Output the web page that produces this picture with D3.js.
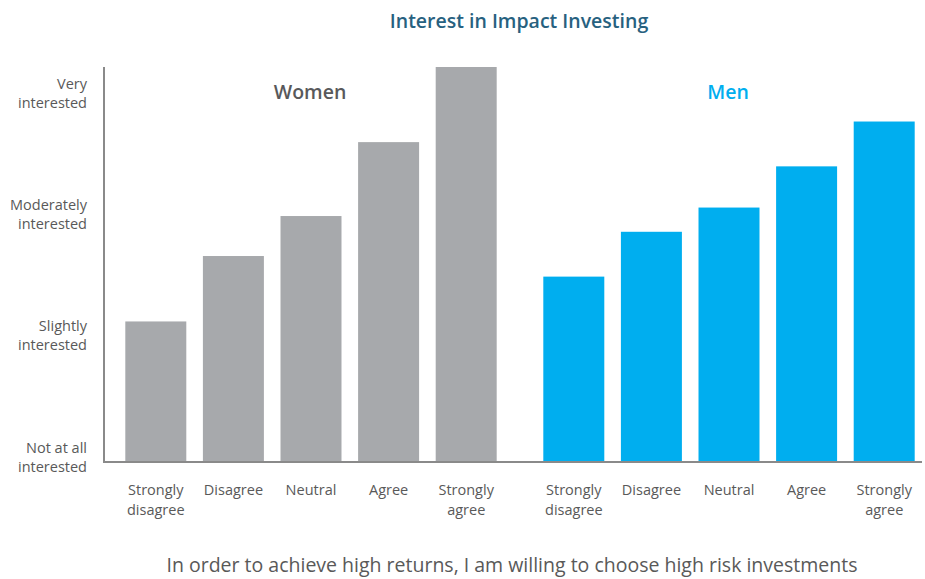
<!DOCTYPE html>
<html>
<head>
<meta charset="utf-8">
<script src="https://cdn.jsdelivr.net/npm/d3@7"></script>
<style>
  body { margin: 0; background: #fff; }
  text { font-family: "Open Sans", "Noto Sans", sans-serif; }
</style>
</head>
<body>
<script>
// categories and values
const groups = ["Women", "Men"];
const answers = ["Strongly disagree", "Disagree", "Neutral", "Agree", "Strongly agree"];
const womenValues = [2.12, 2.66, 2.99, 3.60, 4.22];
const menValues = [2.49, 2.86, 3.06, 3.40, 3.77];
const levelTicks = [1, 2, 3, 4];
const levelLabels = ["Not at all interested", "Slightly interested", "Moderately interested", "Very interested"];

const groupColors = { Women: "#a7a9ac", Men: "#00aeef" };
const groupTextColors = { Women: "#58595b", Men: "#00aeef" };

const width = 925, height = 579;
const svg = d3.select("body").append("svg")
  .attr("width", width)
  .attr("height", height);

// scales
const x0 = d3.scaleBand()
  .domain(groups)
  .range([117, 923])
  .paddingInner(0.0718);

const x1 = d3.scaleBand()
  .domain(answers)
  .range([0, x0.bandwidth()])
  .paddingInner(0.214)
  .paddingOuter(0.107);

const y = d3.scaleLinear()
  .domain([0.96, 4.22])
  .range([462, 67]);

const data = groups.map(g => ({
  group: g,
  values: answers.map((a, i) => ({ answer: a, value: g === "Women" ? womenValues[i] : menValues[i] }))
}));

// title
svg.append("text")
  .attr("x", 519)
  .attr("y", 28)
  .attr("text-anchor", "middle")
  .attr("font-size", 19.5)
  .attr("font-weight", 600)
  .attr("fill", "#27617f")
  .text("Interest in Impact Investing");

// bars
const g = svg.selectAll(".group")
  .data(data)
  .enter().append("g")
  .attr("class", "group")
  .attr("transform", d => "translate(" + x0(d.group) + ",0)");

g.selectAll("rect")
  .data(d => d.values.map(v => Object.assign({ group: d.group }, v)))
  .enter().append("rect")
  .attr("x", d => x1(d.answer))
  .attr("width", x1.bandwidth())
  .attr("y", d => y(d.value))
  .attr("height", d => y(y.domain()[0]) - y(d.value))
  .attr("fill", d => groupColors[d.group]);

// group labels
g.append("text")
  .attr("x", x1("Neutral") + x1.bandwidth() / 2 - 1)
  .attr("y", 99)
  .attr("text-anchor", "middle")
  .attr("font-size", 19.5)
  .attr("font-weight", 600)
  .attr("fill", d => groupTextColors[d.group])
  .text(d => d.group);

// x tick labels (two lines each)
g.each(function () {
  const ax = d3.select(this).append("g")
    .attr("transform", "translate(0,462)")
    .call(d3.axisBottom(x1).tickSize(0).tickPadding(0));
  ax.select(".domain").remove();
  ax.selectAll(".tick text").each(function (d) {
    const t = d3.select(this).text(null)
      .attr("font-family", null)
      .attr("font-size", 14.5)
      .attr("fill", "#595959")
      .attr("y", 0)
      .attr("dy", null);
    const words = d.split(" ");
    const lines = words.length > 1 ? [words[0], words.slice(1).join(" ")] : [d, ""];
    lines.forEach((l, i) => {
      t.append("tspan").attr("x", 0).attr("y", 33 + i * 20).text(l);
    });
  });
});

// y axis with labels
const yAxis = svg.append("g")
  .attr("transform", "translate(104,0)")
  .call(d3.axisLeft(y).tickValues(levelTicks).tickSize(0).tickPadding(0));
yAxis.select(".domain").remove();
yAxis.selectAll(".tick text").each(function (d, i) {
  const t = d3.select(this).text(null)
    .attr("font-family", null)
    .attr("font-size", 14.5)
    .attr("fill", "#595959")
    .attr("x", null)
    .attr("dy", null);
  const label = levelLabels[i];
  const idx = label.lastIndexOf(" ");
  const lines = [label.slice(0, idx), label.slice(idx + 1)];
  lines.forEach((l, k) => {
    t.append("tspan").attr("x", -17).attr("y", -5 + k * 19).text(l);
  });
});

// axis lines
svg.append("line")
  .attr("x1", 104).attr("x2", 104)
  .attr("y1", 67).attr("y2", 463)
  .attr("stroke", "#8a8a8a").attr("stroke-width", 2);
svg.append("line")
  .attr("x1", 103).attr("x2", 922)
  .attr("y1", 462).attr("y2", 462)
  .attr("stroke", "#8a8a8a").attr("stroke-width", 2);

// footnote
svg.append("text")
  .attr("x", 512)
  .attr("y", 572)
  .attr("text-anchor", "middle")
  .attr("font-size", 19.5)
  .attr("fill", "#595959")
  .text("In order to achieve high returns, I am willing to choose high risk investments");
</script>
</body>
</html>
